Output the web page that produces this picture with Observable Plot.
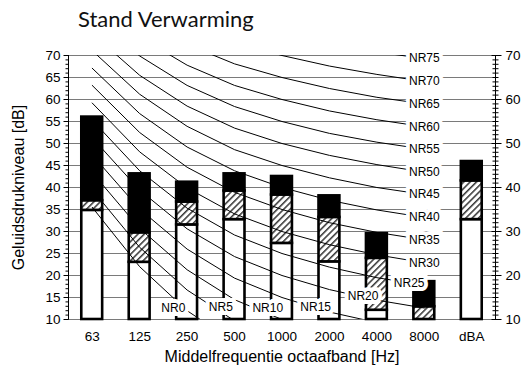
<!DOCTYPE html>
<html>
<head>
<meta charset="utf-8">
<script src="https://cdn.jsdelivr.net/npm/d3@7"></script>
<script src="https://cdn.jsdelivr.net/npm/@observablehq/plot@0.6"></script>
<style>
  html, body { margin: 0; padding: 0; background: #fff; }
  #title { height: 40px; box-sizing: border-box; padding: 8px 0 0 78px; font: 22px Lato, "Open Sans", sans-serif; line-height: 1; color: #111; }
  #chart svg { display: block; }
</style>
</head>
<body>
<div id="title">Stand Verwarming</div>
<div id="chart"></div>
<script>
// ---- data ----
const categories = ["63", "125", "250", "500", "1000", "2000", "4000", "8000", "dBA"];
const whiteTop = [34.8, 23.0, 31.5, 32.7, 27.3, 23.1, 12.1, 10.0, 32.7];
const hatchTop = [37.0, 29.7, 36.7, 39.2, 38.3, 33.2, 23.9, 12.9, 41.5];
const blackTop = [56.0, 43.1, 41.2, 43.1, 42.5, 38.1, 29.5, 18.6, 45.9];

// NR curves at 63 ... 8000 Hz
const nrBands = ["63", "125", "250", "500", "1000", "2000", "4000", "8000"];
const nrLevels = [0, 5, 10, 15, 20, 25, 30, 35, 40, 45, 50, 55, 60, 65, 70, 75];
const nr0  = [35.5, 22.0, 12.0, 4.8, 0, -3.5, -6.1, -8.0];
const nr5  = [39.5, 26.4, 16.7, 9.7, 5, 1.6, -1.0, -2.9];
const nr10 = [43.4, 30.7, 21.3, 14.5, 10, 6.7, 4.2, 2.3];
const nr15 = [47.4, 35.1, 26.0, 19.4, 15, 11.7, 9.3, 7.5];
const nr20 = [51.3, 39.4, 30.6, 24.3, 20, 16.8, 14.4, 12.6];
const nr25 = [55.3, 43.8, 35.3, 29.2, 25, 21.9, 19.5, 17.8];
const nr30 = [59.2, 48.1, 39.9, 34.0, 30, 27.0, 24.7, 22.9];
const nr35 = [63.2, 52.5, 44.6, 38.9, 35, 32.0, 29.8, 28.1];
const nr40 = [67.1, 56.8, 49.2, 43.8, 40, 37.1, 34.9, 33.2];
const nr45 = [71.1, 61.2, 53.9, 48.6, 45, 42.2, 40.0, 38.4];
const nr50 = [75.0, 65.5, 58.5, 53.5, 50, 47.3, 45.2, 43.5];
const nr55 = [79.0, 69.9, 63.2, 58.4, 55, 52.3, 50.3, 48.7];
const nr60 = [82.9, 74.2, 67.8, 63.2, 60, 57.4, 55.4, 53.8];
const nr65 = [86.9, 78.6, 72.5, 68.1, 65, 62.5, 60.5, 59.0];
const nr70 = [90.8, 82.9, 77.1, 73.0, 70, 67.6, 65.7, 64.1];
const nr75 = [94.8, 87.3, 81.8, 77.9, 75, 72.6, 70.8, 69.3];
const nrCurves = [nr0, nr5, nr10, nr15, nr20, nr25, nr30, nr35, nr40, nr45, nr50, nr55, nr60, nr65, nr70, nr75];

// label anchors (band index, dB)
const nrLabelX = [1.71, 2.71, 3.70, 4.71, 5.71, 6.68, 7, 7, 7, 7, 7, 7, 7, 7, 7, 7];
const nrLabelY = [12.6, 12.8, 12.6, 12.8, 15.4, 18.2, 22.9, 28.1, 33.2, 38.4, 43.5, 48.7, 53.8, 59.0, 64.1, 69.3];

const gridTicks = [10, 15, 20, 25, 30, 35, 40, 45, 50, 55, 60, 65, 70];
const rightTicks = [10, 20, 30, 40, 50, 60, 70];
const minorTicks = d3.range(10, 71, 1);

const yTitle = "Geluidsdrukniveau [dB]";
const xTitle = "Middelfrequentie octaafband [Hz]";

// ---- derived tables ----
const segWhite = categories.map((c, i) => ({i, y1: 10, y2: whiteTop[i]})).filter(d => d.y2 > d.y1);
const segHatch = categories.map((c, i) => ({i, y1: whiteTop[i], y2: hatchTop[i]}));
const segBlack = categories.map((c, i) => ({i, y1: hatchTop[i], y2: blackTop[i]}));
const curveRows = nrCurves.flatMap((vals, k) => vals.map((v, j) => ({nr: nrLevels[k], x: j, y: v})));
const labelRows = nrLevels.map((n, k) => ({text: "NR" + n, x: nrLabelX[k], y: nrLabelY[k]}));
const catRows = categories.map((c, i) => ({c, i}));

const hw = 0.22;
const hTick = (left, right) => ({draw(ctx) { ctx.moveTo(-left, 0); ctx.lineTo(right, 0); }});
const font = "'Liberation Sans', Arial, sans-serif";

const chart = Plot.plot({
  width: 527,
  height: 334,
  marginTop: 15,
  marginBottom: 55,
  marginLeft: 68,
  marginRight: 32,
  style: {fontFamily: font, fontSize: "13.5px", background: "white", color: "black"},
  x: {domain: [-0.5, 8.5], axis: null},
  y: {domain: [10, 70], axis: null},
  marks: [
    Plot.ruleY(gridTicks, {stroke: "#7a7a7a", strokeWidth: 1}),
    Plot.rect(segWhite, {x1: d => d.i - hw, x2: d => d.i + hw, y1: "y1", y2: "y2", fill: "white", stroke: "black", strokeWidth: 2.6}),
    Plot.rect(segHatch, {x1: d => d.i - hw, x2: d => d.i + hw, y1: "y1", y2: "y2", fill: "url(#hatch)", stroke: "black", strokeWidth: 2.6}),
    Plot.rect(segBlack, {x1: d => d.i - hw, x2: d => d.i + hw, y1: "y1", y2: "y2", fill: "black", stroke: "black", strokeWidth: 2.6}),
    Plot.line(curveRows, {x: "x", y: "y", z: "nr", stroke: "black", strokeWidth: 1, clip: true}),
    Plot.text(labelRows, {x: "x", y: "y", text: "text", fontSize: 12, fill: "black", stroke: "white", strokeWidth: 8, strokeLinejoin: "miter", paintOrder: "stroke"}),
    // left axis
    Plot.ruleX([-0.5], {y1: 10, y2: 70, stroke: "black", strokeWidth: 1}),
    Plot.dot(minorTicks, {x: -0.5, y: d => d, symbol: hTick(3, 0), stroke: "black", strokeWidth: 1, fill: "none"}),
    Plot.dot(gridTicks, {x: -0.5, y: d => d, symbol: hTick(5, 0), stroke: "black", strokeWidth: 1, fill: "none"}),
    Plot.text(gridTicks, {x: -0.5, y: d => d, text: d => String(d), dx: -8, textAnchor: "end"}),
    // right axis
    Plot.ruleX([8.5], {y1: 10, y2: 70, stroke: "black", strokeWidth: 1}),
    Plot.dot(minorTicks, {x: 8.5, y: d => d, symbol: hTick(3, 3), stroke: "black", strokeWidth: 1, fill: "none"}),
    Plot.dot(rightTicks, {x: 8.5, y: d => d, symbol: hTick(4, 6), stroke: "black", strokeWidth: 1, fill: "none"}),
    Plot.text(rightTicks, {x: 8.5, y: d => d, text: d => String(d), dx: 10, textAnchor: "start"}),
    // x tick labels
    Plot.text(catRows, {x: "i", y: 10, text: "c", dy: 17}),
    // axis titles
    Plot.text([xTitle], {frameAnchor: "bottom", dy: 42, fontSize: 16, textAnchor: "middle"}),
    Plot.text([yTitle], {frameAnchor: "left", dx: -50, rotate: -90, fontSize: 16, textAnchor: "middle"})
  ]
});

// hatch pattern
const ns = "http://www.w3.org/2000/svg";
const defs = document.createElementNS(ns, "defs");
defs.innerHTML = '<pattern id="hatch" patternUnits="userSpaceOnUse" width="4.5" height="4.5" patternTransform="rotate(45)">' +
  '<rect width="4.5" height="4.5" fill="white"/><line x1="0.8" y1="0" x2="0.8" y2="4.5" stroke="black" stroke-width="1.2"/></pattern>';
chart.insertBefore(defs, chart.firstChild);
document.getElementById("chart").appendChild(chart);
</script>
</body>
</html>
